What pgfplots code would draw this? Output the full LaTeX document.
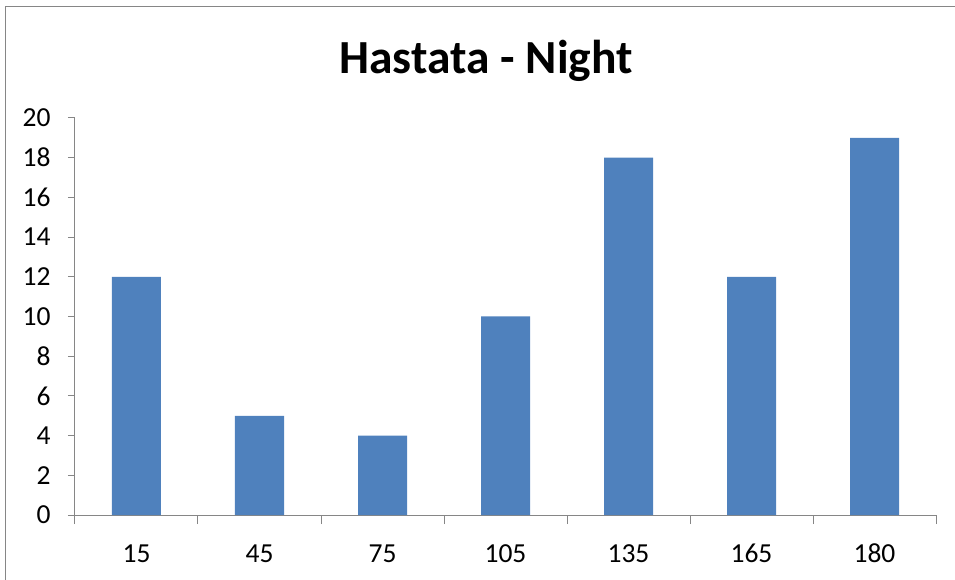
\documentclass[border=0pt]{standalone}
\usepackage{pgfplots}
\pgfplotsset{compat=1.18}
\usepackage{fontspec}
\setmainfont{Carlito}
\definecolor{barblue}{HTML}{4F81BD}
\definecolor{axgray}{HTML}{868686}
\begin{document}
\begin{tikzpicture}[x=1bp,y=1bp]
\useasboundingbox (-75bp,-65bp) rectangle (880bp,515bp);
\draw[axgray,line width=1.5bp] (-69.5bp,-80bp) -- (-69.5bp,508.5bp) -- (900bp,508.5bp);
\begin{axis}[
  at={(0,0)}, anchor=south west,
  scale only axis,
  width=861bp, height=397bp,
  xmin=-0.5, xmax=6.5,
  ymin=0, ymax=20,
  ytick={0,2,...,20},
  xtick={0,...,6},
  xticklabels={15,45,75,105,135,165,180},
  minor xtick={-0.5,0.5,...,6.5},
  axis x line*=bottom, axis y line*=left,
  axis line style={axgray, line width=1bp},
  every tick/.style={axgray, line width=1bp},
  tick align=outside,
  major x tick style={draw=none},
  minor tick length=9bp,
  major tick length=7bp,
  /pgf/number format/assume math mode=true,
  tick label style={font=\fontsize{27.5bp}{30bp}\selectfont, text=black},
  yticklabel style={xshift=-14bp},
  xticklabel style={anchor=base, yshift=-40bp},
  ybar, bar width=49bp,
  enlargelimits=false,
  clip=false,
]
\addplot[fill=barblue, draw=none] coordinates {(0,12) (1,5) (2,4) (3,10) (4,18) (5,12) (6,19)};
\end{axis}
\node[font=\bfseries\fontsize{47.5bp}{52bp}\selectfont] at (411bp,454bp) {Hastata - Night};
\end{tikzpicture}
\end{document}
